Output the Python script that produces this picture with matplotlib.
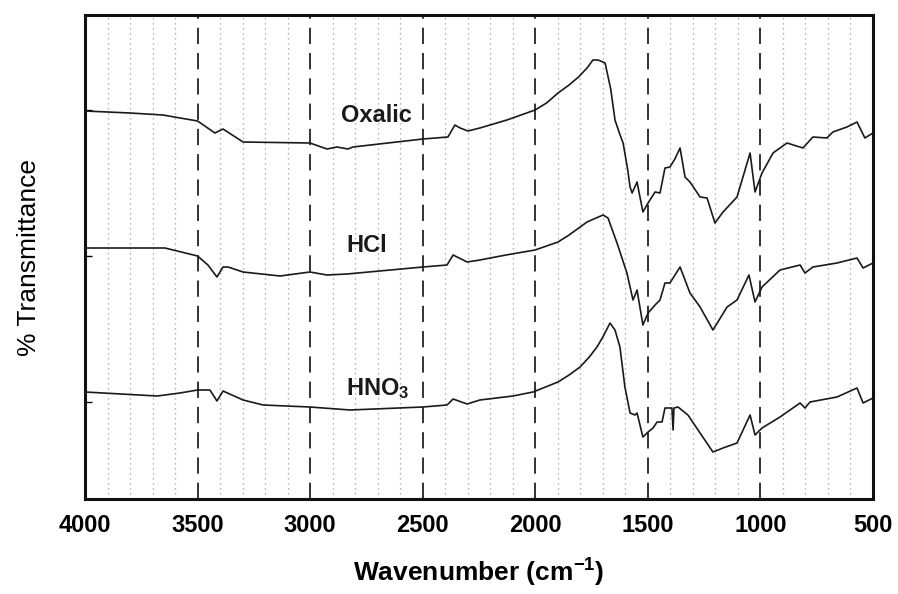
import matplotlib
matplotlib.use("Agg")
import matplotlib.pyplot as plt
import numpy as np

plt.rcParams["font.family"] = ["Liberation Sans", "DejaVu Sans"]
plt.rcParams["mathtext.fontset"] = "custom"
plt.rcParams["mathtext.rm"] = "Liberation Sans:bold"
plt.rcParams["mathtext.bf"] = "Liberation Sans:bold"
plt.rcParams["mathtext.default"] = "bf"

# spectra (wavenumber, arbitrary transmittance units)
oxalic_wn = [4000, 3800, 3654, 3500, 3423, 3387, 3298, 3001, 2925, 2881, 2832, 2810, 2499,
             2388, 2357, 2334, 2299, 2246, 2126, 2001, 1950, 1899, 1850, 1808, 1770, 1744,
             1721, 1700, 1690, 1665, 1646, 1625, 1610, 1590, 1579, 1570, 1548, 1522, 1499,
             1468, 1446, 1424, 1402, 1380, 1357, 1335, 1313, 1268, 1237, 1202, 1166, 1104,
             1046, 1024, 993, 944, 882, 811, 767, 705, 678, 616, 571, 536, 500]
oxalic_t = [388, 386, 384, 378, 366, 370, 357, 356, 350, 352, 350, 352, 360,
            362, 374, 371, 368, 371, 379, 389, 396, 406, 414, 422, 431, 439,
            439, 437, 436, 410, 379, 365, 356, 330, 312, 306, 317, 287, 296,
            307, 306, 331, 332, 340, 351, 322, 317, 302, 301, 276, 287, 302,
            346, 307, 326, 346, 356, 351, 362, 361, 367, 372, 377, 361, 366]

hcl_wn = [4000, 3645, 3500, 3454, 3414, 3387, 3365, 3298, 3134, 3001, 2925, 2836, 2499,
          2392, 2365, 2303, 2246, 2130, 2001, 1899, 1850, 1801, 1770, 1740, 1699, 1677,
          1637, 1593, 1566, 1548, 1522, 1499, 1468, 1446, 1424, 1402, 1357, 1313, 1268,
          1211, 1148, 1104, 1051, 1024, 993, 913, 824, 802, 767, 660, 571, 544, 500]
hcl_t = [251, 251, 243, 234, 222, 232, 232, 227, 223, 227, 224, 225, 232,
         234, 244, 237, 239, 244, 249, 257, 264, 272, 277, 280, 284, 281,
         256, 226, 199, 209, 174, 186, 194, 199, 216, 216, 232, 206, 192,
         169, 192, 199, 224, 197, 212, 229, 234, 226, 232, 236, 241, 231, 236]

hno3_wn = [4000, 3680, 3578, 3500, 3445, 3414, 3387, 3298, 3209, 3001, 2823, 2499, 2392,
           2365, 2303, 2246, 2099, 2010, 1899, 1850, 1801, 1760, 1726, 1700, 1668, 1646,
           1624, 1602, 1579, 1557, 1548, 1522, 1499, 1477, 1459, 1437, 1424, 1393, 1388,
           1384, 1366, 1322, 1268, 1211, 1166, 1104, 1046, 1024, 993, 913, 824, 802, 780,
           660, 571, 544, 500]
hno3_t = [107, 103, 106, 109, 109, 98, 108, 99, 94, 92, 89, 92, 94,
          100, 95, 99, 103, 107, 117, 124, 132, 142, 152, 162, 176, 169,
          152, 112, 86, 84, 86, 62, 67, 71, 77, 77, 91, 91, 69,
          91, 92, 84, 66, 47, 51, 56, 84, 64, 71, 82, 96, 91, 97,
          102, 111, 96, 101]

series = [("Oxalic", oxalic_wn, oxalic_t, 2707, 383),
          ("HCl", hcl_wn, hcl_t, 2747, 253),
          ("HNO$_3$", hno3_wn, hno3_t, 2699, 110)]

major_x = [3500, 3000, 2500, 2000, 1500, 1000]
tick_x = [4000, 3500, 3000, 2500, 2000, 1500, 1000, 500]

fig = plt.figure(figsize=(8.98, 5.94), dpi=100)
ax = fig.add_axes([85 / 898, 95 / 594, 788 / 898, 484 / 594])

for x in np.arange(3900, 500, -100):
    if x % 500:
        ax.axvline(x, color="#9a9a9a", lw=0.9, ls=(0, (1, 3)), zorder=1)
for x in major_x:
    ax.axvline(x, color="#222222", lw=1.3, ls=(0, (9, 5)), zorder=1)

for name, wn, t, lx, ly in series:
    ax.plot(wn, t, color="#1a1a1a", lw=1.2, zorder=3)
    ax.text(lx, ly, name, ha="center", va="center", fontsize=17,
            fontweight="bold", color="#1a1a1a", zorder=4)

ax.set_xlim(4000, 500)
ax.set_ylim(0, 484)
ax.set_xticks(tick_x)
ax.set_xticklabels([str(v) for v in tick_x], fontsize=17, fontweight="bold")
ax.set_yticks([97, 243, 389])
ax.set_yticklabels([])
ax.tick_params(axis="x", length=0, pad=11)
ax.tick_params(axis="y", direction="in", length=5, width=1)
for s in ax.spines.values():
    s.set_linewidth(2.2)
    s.set_color("#111111")

ax.set_xlabel("Wavenumber (cm$^{-1}$)", fontsize=19, fontweight="bold", labelpad=14)
ax.set_ylabel("% Transmittance", fontsize=19, labelpad=28)

fig.savefig("out.png", dpi=100)
plt.close(fig)
